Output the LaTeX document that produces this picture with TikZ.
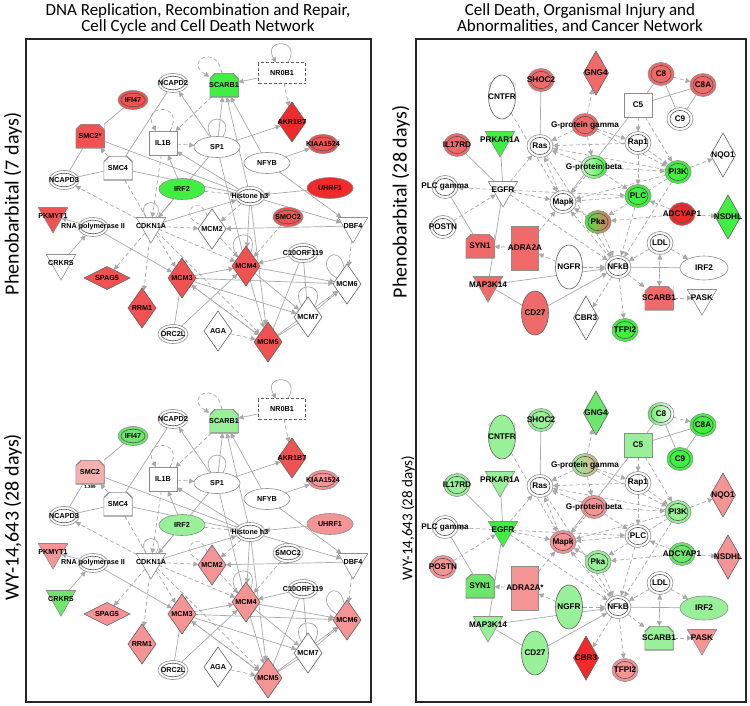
\documentclass[tikz,border=0pt]{standalone}
\usepackage{fontspec}
\setmainfont{Carlito}
\newfontfamily\labfont{Liberation Sans}
\usetikzlibrary{shapes.geometric,arrows.meta,positioning}
\pgfdeclarelayer{bg}
\pgfsetlayers{bg,main}
\newcommand\tightlines{\lineskiplimit=-20pt\relax}

\definecolor{redA}{HTML}{F05252}
\definecolor{redD}{HTML}{F02A2A}
\definecolor{redL}{HTML}{F06A6A}
\definecolor{pinkA}{HTML}{F49494}
\definecolor{pinkL}{HTML}{F5B0B0}
\definecolor{grnA}{HTML}{40F040}
\definecolor{grnM}{HTML}{6CE66C}
\definecolor{grnL}{HTML}{98F098}
\definecolor{tanA}{HTML}{D8AE8C}
\definecolor{edgeg}{HTML}{A8A8A8}
\definecolor{ringo}{HTML}{8C8C8C}
\definecolor{ringi}{HTML}{555555}
\definecolor{diag}{HTML}{606060}

\tikzset{
  frame/.style={draw=black!85, line width=1.4pt},
  ttl/.style={anchor=north, align=center, inner sep=0pt,
    font=\fontsize{17}{15.8}\selectfont\tightlines},
  side/.style={rotate=90, inner sep=0pt, font=\fontsize{20}{20}\selectfont},
  laba/.style={inner sep=0pt, font=\labfont\bfseries\fontsize{7.2}{8}\selectfont},
  labb/.style={inner sep=0pt, font=\labfont\bfseries\fontsize{8.2}{9}\selectfont},
  valtxt/.style={inner sep=0pt, font=\labfont\bfseries\fontsize{4.5}{5}\selectfont},
  % node shapes
  shp/.style={draw=ringo, line width=0.6pt, inner sep=0pt, outer sep=0pt},
  dbl/.style={shp, ellipse, minimum width=30pt, minimum height=19pt,
    path picture={\draw[ringi, line width=0.6pt] (path picture bounding box.center) ellipse (12pt and 6.8pt);}},
  dblc/.style={shp, ellipse, minimum width=26pt, minimum height=23pt,
    path picture={\draw[ringi, line width=0.6pt] (path picture bounding box.center) ellipse (10pt and 8.6pt);}},
  ell/.style={shp, ellipse, minimum width=46pt, minimum height=21pt},
  ellw/.style={shp, ellipse, minimum width=48pt, minimum height=24pt},
  vell/.style={shp, ellipse, draw=diag, minimum width=27pt, minimum height=44pt},
  dia/.style={shp, diamond, draw=diag, minimum width=28pt, minimum height=40pt},
  diab/.style={shp, diamond, draw=diag, minimum width=25pt, minimum height=44pt},
  hdia/.style={shp, diamond, draw=diag, minimum width=46pt, minimum height=23pt},
  tri/.style={shp, regular polygon, regular polygon sides=3, shape border rotate=180, minimum size=34pt},
  oct/.style={rectangle, inner sep=0pt, outer sep=0pt, minimum width=29pt, minimum height=24pt,
    path picture={
      \fill[white] (path picture bounding box.north west) -- ++(6pt,0pt) -- ++(-6pt,-6pt) -- cycle;
      \fill[white] (path picture bounding box.north east) -- ++(-6pt,0pt) -- ++(6pt,-6pt) -- cycle;
      \draw[ringo, line width=1.2pt] ([xshift=6pt]path picture bounding box.north west)
        -- ([xshift=-6pt]path picture bounding box.north east)
        -- ([yshift=-6pt]path picture bounding box.north east)
        -- (path picture bounding box.south east) -- (path picture bounding box.south west)
        -- ([yshift=-6pt]path picture bounding box.north west) -- cycle;}},
  box/.style={shp, rectangle, minimum width=28pt, minimum height=24pt},
  tbox/.style={shp, rectangle, minimum width=27pt, minimum height=44pt},
  dbox/.style={shp, rectangle, draw=diag, line width=1pt, dash pattern=on 3pt off 2pt,
    minimum width=47pt, minimum height=21pt},
  % fills
  cW/.style={fill=white},
  cR/.style={fill=redA},
  cRd/.style={fill=redD},
  cRl/.style={fill=redL},
  cP/.style={fill=pinkA},
  cPl/.style={fill=pinkL},
  cG/.style={fill=grnA},
  cGm/.style={fill=grnM},
  cGl/.style={fill=grnL},
  gWG/.style={left color=grnL!50, right color=grnA},
  gGR/.style={left color=grnA, middle color=olive!70, right color=redL},
  gGT/.style={left color=grnL, right color=tanA},
  gGW/.style={left color=grnM, right color=white},
  % connectors
  link/.style={draw=edgeg, line width=0.7pt},
  arr/.style={-{Triangle[length=5pt,width=5pt]}},
  darr/.style={arr, dash pattern=on 4pt off 2.5pt},
  ln/.style={},
  dln/.style={dash pattern=on 4pt off 2.5pt},
}

\begin{document}
\begin{tikzpicture}[x=1pt,y=-1pt]
\useasboundingbox (0,0) rectangle (750,705);
    % panels
        \draw[frame] (26,39) rectangle (371,702);
        \draw[frame] (416,39) rectangle (746,702);
        \node[ttl] (ttlL) at (198,3.5) {DNA Replication, Recombination and Repair,\\Cell Cycle and Cell Death Network};
        \node[ttl] (ttlR) at (580,3.5) {Cell Death, Organismal Injury and\\Abnormalities, and Cancer Network};
        \node[side] (rowLp) at (13,204) {Phenobarbital (7 days)};
        \node[side] (rowLw) at (13,517) {WY-14,643 (28 days)};
        \node[side] (rowRp) at (401,202) {Phenobarbital (28 days)};
        \node[side, font=\fontsize{15}{15}\selectfont] (rowRw) at (408,518) {WY-14,643 (28 days)};
    % left network
        \foreach \pfx/\dy/\sel in {p/0/1,w/336/2}{
            \foreach \id/\x/\y/\shp/\lab/\cp/\cw in {
                nr0b1/282/73/dbox/NR0B1/cW/cW, scarb1/224/85/oct/SCARB1/cG/cGl,
                ncapd2/173/83/dbl/NCAPD2/cW/cW, ifi47/133/100/dbl/IFI47/cR/cGm,
                akr1b7/292/122/dia/AKR1B7/cRd/cR, kiaa/323/144/dbl/KIAA1524/cR/cP,
                smc2/90/136/oct/SMC2\ifnum\sel=1 *\fi/cR/cPl, il1b/163/143/box/IL1B/cW/cW,
                sp1/217/147/ell/SP1/cW/cW, nfyb/267/163/ell/NFYB/cW/cW,
                smc4/118/168/oct/SMC4/cW/cW, ncapd3/64/180/dbl/NCAPD3/cW/cW,
                irf2/182/189/ell/IRF2/cG/cGl, h3/250/196/dbl/Histone h3/cW/cW,
                uhrf1/330/188/ell/UHRF1/cRd/cP, pkmyt1/53/216/tri/PKMYT1/cR/cP,
                rnap/93/227/dbl/RNA polymerase II/cW/cW, cdkn1a/151/226/tri/CDKN1A/cW/cW,
                mcm2/212/229/dia/MCM2/cW/cP, smoc2/288/217/dbl/SMOC2/cR/cW,
                dbf4/353/226/tri/DBF4/cW/cW, c10/303/253/dbl/C10ORF119/cW/cW,
                mcm4/246/266/dia/MCM4/cR/cP, crkrs/61/263/tri/CRKRS/cW/cGm,
                spag5/107/278/hdia/SPAG5/cR/cP, mcm3/182/278/dia/MCM3/cR/cP,
                mcm6/347/284/dia/MCM6/cW/cP, rrm1/142/308/dia/RRM1/cR/cP,
                mcm7/308/317/dia/MCM7/cW/cW, orc2l/173/334/dbl/ORC2L/cW/cW,
                aga/218/331/dia/AGA/cW/cW, mcm5/268/342/dia/MCM5/cR/cP}{
                \ifnum\sel=1 \let\col\cp \else \let\col\cw \fi
                \node[\shp,\col,label={[laba]center:\lab}] (L\pfx\id) at (\x,\y+\dy) {};
            }
            \begin{pgfonlayer}{bg}
            \foreach \a/\b/\s in {nr0b1/scarb1/arr, nr0b1/akr1b7/darr, scarb1/il1b/darr,
                sp1/scarb1/arr, nfyb/scarb1/arr, h3/scarb1/arr, sp1/ncapd2/arr, il1b/sp1/darr,
                sp1/akr1b7/arr, nfyb/kiaa/arr, ifi47/smc2/ln, ncapd2/smc4/ln, smc2/ncapd3/ln,
                smc4/ncapd3/ln, smc2/h3/ln, smc4/smc2/darr, smc4/h3/ln, irf2/il1b/arr,
                h3/il1b/arr, sp1/cdkn1a/ln, irf2/cdkn1a/arr, il1b/cdkn1a/darr, cdkn1a/h3/arr,
                cdkn1a/mcm2/darr, irf2/h3/darr, uhrf1/h3/arr, h3/dbf4/arr, nfyb/dbf4/arr,
                h3/mcm4/arr, h3/mcm5/arr, h3/mcm2/darr, cdkn1a/ncapd3/darr, cdkn1a/spag5/darr,
                cdkn1a/rrm1/darr, cdkn1a/mcm3/darr, cdkn1a/mcm4/darr, cdkn1a/mcm5/darr,
                smc4/cdkn1a/dln, rnap/pkmyt1/arr, crkrs/rnap/arr, rnap/mcm3/arr,
                mcm3/mcm4/arr, mcm3/mcm5/arr, mcm3/mcm6/arr, mcm3/mcm7/arr, mcm4/mcm6/arr,
                mcm4/mcm7/arr, mcm5/mcm6/arr, mcm4/mcm5/arr, mcm7/mcm6/arr, mcm5/mcm3/darr,
                mcm2/mcm4/darr, dbf4/mcm2/arr, dbf4/mcm6/darr, c10/mcm4/arr, c10/mcm5/ln,
                c10/mcm7/ln, smoc2/mcm4/darr, orc2l/mcm3/ln, orc2l/mcm4/arr, aga/mcm5/darr,
                mcm5/mcm7/ln, sp1/mcm4/ln}{
                \draw[link,\s] (L\pfx\a) -- (L\pfx\b);
            }
            \foreach \n/\s/\o/\i in {nr0b1/arr/60/120, scarb1/darr/100/150, il1b/darr/60/120,
                sp1/ln/60/120, cdkn1a/ln/60/120, mcm2/dln/110/160, mcm4/ln/70/130,
                mcm6/ln/100/150, mcm7/ln/60/120}{
                \draw[link,\s] (L\pfx\n) to[out=\o,in=\i,looseness=6,min distance=14pt] (L\pfx\n);
            }
            \end{pgfonlayer}
        }
        \node[valtxt, below=1pt of Lwsmc2] (smcval) {1.399};
    % right network
        \foreach \pfx/\dy/\sel in {p/0/1,w/340/2}{
            \foreach \id/\x/\y/\shp/\lab/\cp/\cw in {
                cntfr/502/97/vell/CNTFR/cW/cGl, shoc2/541/80/dblc/SHOC2/cRl/cGl,
                gng4/596/73/diab/GNG4/cRl/cGm, c8/661/74/dblc/C8/cRl/gGW,
                c8a/703/85/dblc/C8A/cRl/cG, c5/638/105/box/C5/cW/cGl,
                c9/680/119/dblc/C9/cW/cG, gpg/585/125/dblc/G-protein gamma/cRl/gGT,
                il17rd/457/145/dblc/IL17RD/cRl/cGl, prkar/500/140/tri/PRKAR1A/cG/cGl,
                ras/540/146/dblc/Ras/cW/cW, rap1/638/143/dblc/Rap1/cW/cW,
                nqo1/723/155/diab/NQO1/cW/cP, gpb/594/167/dblc/G-protein beta/gWG/cP,
                pi3k/678/172/dblc/PI3K/cG/cGl, plcg/445/187/dblc/PLC gamma/cW/cW,
                egfr/503/190/tri/EGFR/cW/cG, mapk/563/202/dblc/Mapk/cW/cP,
                plc/638/196/dblc/PLC/cG/cW, pka/598/222/dblc/Pka/gGR/cGl,
                adcy/682/214/dblc/ADCYAP1/cRd/cGm, nsdhl/728/217/diab/NSDHL/cG/cP,
                postn/443/227/dblc/POSTN/cW/cP, syn1/480/246/oct/SYN1/cRl/cGm,
                adra/525/248/tbox/ADRA2A\ifnum\sel=2 *\fi/cRl/cP, ldl/660/243/dblc/LDL/cW/cW,
                ngfr/569/267/vell/NGFR/cW/cGl, nfkb/618/267/dblc/NFkB/cW/cW,
                irf2/704/268/ellw/IRF2/cW/cGl, map3k/488/285/tri/MAP3K14/cRl/cGl,
                scarb1/659/298/oct/SCARB1/cRl/cGl, pask/702/298/tri/PASK/cW/cP,
                cd27/535/313/vell/CD27/cRl/cGl, cbr3/586/318/diab/CBR3/cW/cRd,
                tfpi2/625/330/dblc/TFPI2/cG/cP}{
                \ifnum\sel=1 \let\col\cp \else \let\col\cw \fi
                \node[\shp,\col,label={[labb]center:\lab}] (R\pfx\id) at (\x,\y+\dy) {};
            }
            \begin{pgfonlayer}{bg}
            \foreach \a/\b/\s in {shoc2/ras/ln, gpg/gng4/darr, c8/c8a/darr, c8/c5/ln, c8/c9/ln,
                c8a/c5/ln, c8a/c9/ln, c5/rap1/darr, c5/pi3k/darr, c5/mapk/ln, gpg/ras/darr,
                gpg/rap1/darr, gpg/gpb/darr, gpg/pi3k/darr, il17rd/egfr/ln, prkar/egfr/ln,
                rap1/ras/darr, rap1/plc/darr, rap1/pi3k/darr, pi3k/nqo1/darr, gpb/pi3k/darr,
                gpb/ras/darr, gpb/mapk/darr, gpb/plc/darr, egfr/plcg/darr, egfr/ras/darr,
                egfr/mapk/darr, egfr/plc/darr, egfr/map3k/ln, postn/egfr/darr, plcg/syn1/ln,
                adra/syn1/darr, adra/mapk/darr, ngfr/adra/darr, pka/mapk/darr, adcy/pka/darr,
                adcy/nsdhl/darr, adcy/plc/darr, ldl/nfkb/darr, ldl/scarb1/darr,
                scarb1/ldl/darr, nfkb/irf2/ln, nfkb/tfpi2/darr, nfkb/scarb1/darr,
                nfkb/cbr3/darr, nfkb/mapk/darr, map3k/nfkb/arr, cd27/nfkb/arr, cd27/map3k/ln,
                ngfr/nfkb/darr, scarb1/pask/darr, pka/nfkb/darr, plc/nfkb/darr,
                pi3k/nfkb/darr, ras/nfkb/darr, mapk/ras/darr, pi3k/ras/darr, pi3k/mapk/darr,
                plc/mapk/darr, ldl/irf2/darr, pi3k/pka/darr, cntfr/mapk/darr, egfr/nfkb/darr}{
                \draw[link,\s] (R\pfx\a) -- (R\pfx\b);
            }
            \draw[link, draw=edgeg!70] (R\pfx cntfr) to[out=40,in=140,looseness=1.3] (R\pfx cntfr);
            \end{pgfonlayer}
        }
\end{tikzpicture}
\end{document}
